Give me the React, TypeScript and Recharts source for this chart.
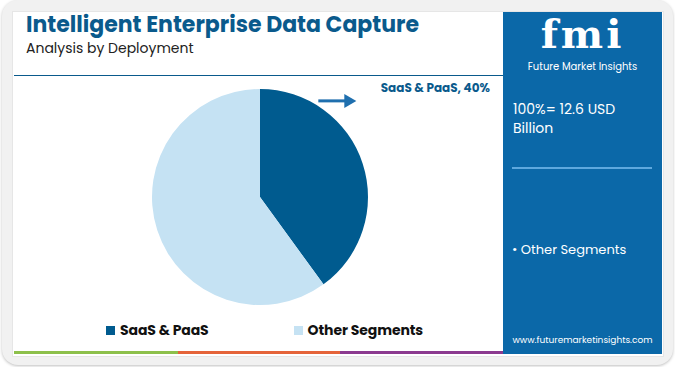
import { PieChart, Pie, Cell, Legend } from 'recharts';

const segments = ['SaaS & PaaS', 'Other Segments'];
const shares = [40, 60];
const colors = ['#005b8f', '#c5e2f3'];
const totalLabel = '100%= 12.6 USD Billion';
const panelItems = ['Other Segments'];

const data = segments.map((name, i) => ({ name, value: shares[i] }));

const font = "Poppins, 'Open Sans', sans-serif";

function SliceLabel(props: any) {
  const { cx, cy, outerRadius, index, name, value } = props;
  if (index !== 0) return null;
  const ax = cx + outerRadius * 0.54;
  const ay = cy - outerRadius * 0.89;
  return (
    <g>
      <line x1={ax} y1={ay} x2={ax + 28} y2={ay} stroke="#1f6fae" strokeWidth={3} />
      <polygon points={`${ax + 26},${ay - 7} ${ax + 38},${ay} ${ax + 26},${ay + 7}`} fill="#1f6fae" />
      <text x={cx + 230} y={cy - 105} textAnchor="end" fill="#0a5a8c" fontSize={12} fontWeight={700} fontFamily={font}>
        {`${name}, ${value}%`}
      </text>
    </g>
  );
}

function LegendContent({ payload }: any) {
  const items = [...(payload || [])].sort(
    (a: any, b: any) => segments.indexOf(a.value) - segments.indexOf(b.value)
  );
  return (
    <div style={{ display: 'flex', fontFamily: font }}>
      {items.map((p: any, i: number) => (
        <div key={i} style={{ display: 'flex', alignItems: 'center', marginRight: i === 0 ? 85 : 0 }}>
          <span style={{ width: 9, height: 9, background: p.color, display: 'inline-block', marginRight: 5 }} />
          <span style={{ fontSize: 14, fontWeight: 700, letterSpacing: -0.1, color: '#111' }}>{p.value}</span>
        </div>
      ))}
    </div>
  );
}

export default function App() {
  return (
    <div style={{ position: 'absolute', left: 0, top: 0, width: 675, height: 367, background: '#fff', overflow: 'hidden' }}>
      <div style={{ position: 'absolute', left: 2, top: 0, width: 671, height: 365, borderRadius: 16, background: '#f1f1f1', boxShadow: '0 1px 3px rgba(0,0,0,0.25)' }} />
      <div style={{ position: 'absolute', left: 12, top: 11, width: 650, height: 344, background: '#fff', border: '1px solid #e6e6e6' }} />
      <div style={{ position: 'absolute', left: 26, top: 8, fontFamily: font, fontSize: 22, fontWeight: 700, color: '#0a5a8c', whiteSpace: 'nowrap' }}>
        Intelligent Enterprise Data Capture
      </div>
      <div style={{ position: 'absolute', left: 26, top: 38, fontFamily: font, fontSize: 14, color: '#222', whiteSpace: 'nowrap' }}>
        Analysis by Deployment
      </div>
      <div style={{ position: 'absolute', left: 14, top: 75, width: 490, height: 1, background: '#0a5a8c' }} />
      <div style={{ position: 'absolute', left: 14, top: 351, width: 164, height: 3, background: '#8dc04b' }} />
      <div style={{ position: 'absolute', left: 178, top: 351, width: 162, height: 3, background: '#e5643a' }} />
      <div style={{ position: 'absolute', left: 340, top: 351, width: 164, height: 3, background: '#8b3a8f' }} />

      <div style={{ position: 'absolute', left: 503, top: 12, width: 159, height: 342, background: '#0b68a8', fontFamily: font, color: '#fff' }}>
        <div style={{ position: 'absolute', left: 0, width: 159, top: 2, textAlign: 'center', fontFamily: "'DejaVu Serif', serif", fontSize: 40, fontWeight: 700, lineHeight: '40px', letterSpacing: 3, color: '#fff' }}>
          fmi
        </div>
        <div style={{ position: 'absolute', left: 0, width: 159, top: 47, textAlign: 'center', fontSize: 10, color: '#fff' }}>
          Future Market Insights
        </div>
        <div style={{ position: 'absolute', left: 10, top: 88, width: 140, fontSize: 14, lineHeight: '19px' }}>{totalLabel}</div>
        <div style={{ position: 'absolute', left: 9, top: 155, width: 140, height: 2, background: '#5ea8de' }} />
        {panelItems.map((t, i) => (
          <div key={t} style={{ position: 'absolute', left: 9, top: 228 + i * 20, fontSize: 13 }}>{`• ${t}`}</div>
        ))}
        <div style={{ position: 'absolute', left: 0, width: 159, top: 322, textAlign: 'center', fontSize: 9 }}>
          www.futuremarketinsights.com
        </div>
      </div>

      <div style={{ position: 'absolute', left: 0, top: 0 }}>
        <PieChart width={675} height={367} margin={{ top: 0, right: 0, bottom: 0, left: 0 }}>
          <Pie
            data={data}
            dataKey="value"
            nameKey="name"
            cx={260}
            cy={197}
            outerRadius={108}
            startAngle={90}
            endAngle={-270}
            stroke="none"
            label={SliceLabel}
            labelLine={false}
            isAnimationActive={false}
          >
            {data.map((d, i) => (
              <Cell key={d.name} fill={colors[i]} />
            ))}
          </Pie>
          <Legend
            content={LegendContent}
            wrapperStyle={{ position: 'absolute', left: 106, top: 320, width: 'auto' }}
          />
        </PieChart>
      </div>
    </div>
  );
}
